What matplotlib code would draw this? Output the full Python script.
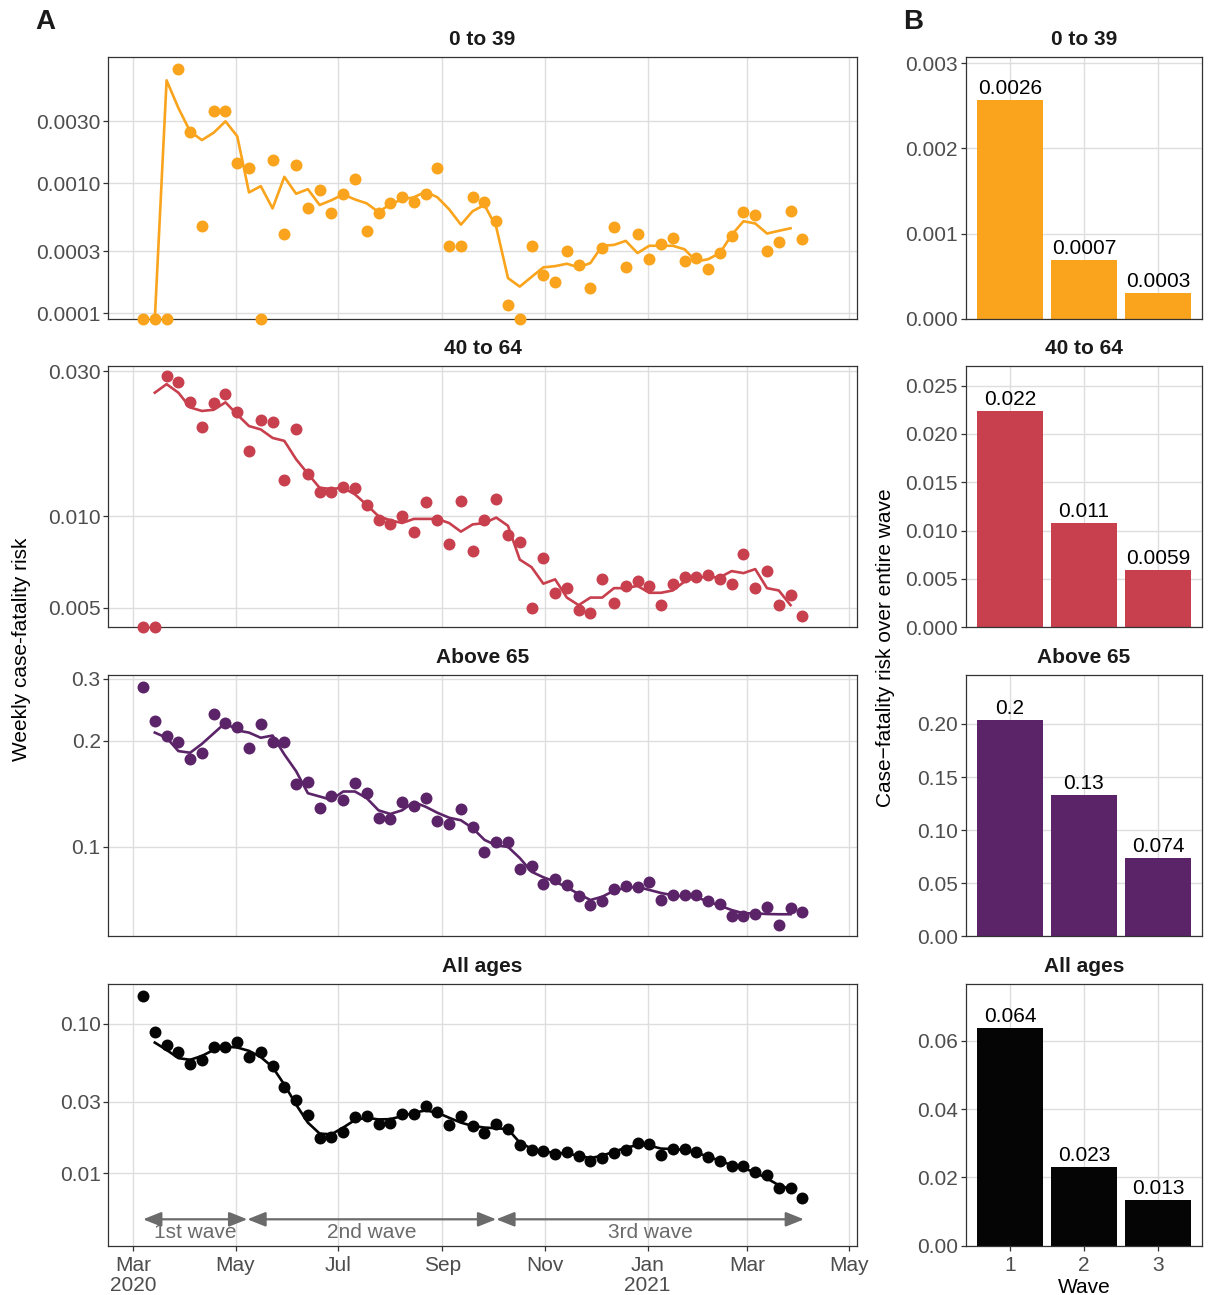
import numpy as np
import matplotlib.pyplot as plt
import matplotlib.dates as mdates
from matplotlib.ticker import NullLocator

plt.rcParams['font.family'] = ['Liberation Sans', 'DejaVu Sans']

# weekly estimates, first week starting early March 2020
weeks = np.datetime64('2020-03-07') + np.arange(57) * np.timedelta64(7, 'D')
xw = mdates.date2num(weeks)

groups = ["0 to 39", "40 to 64", "Above 65", "All ages"]
colors = ["#F9A41C", "#C83F4E", "#5B2468", "#050505"]
nan = np.nan

# weekly case-fatality risk (0 = no deaths that week)
cfr_0_39 = [0, 0, 0, 0.0076, 0.0025, 0.00047, 0.0036, 0.0036, 0.00143, 0.00132,
            0, 0.0015, 0.00041, 0.00139, 0.00065, 0.00088, 0.00059, 0.00082, 0.00107, 0.00043,
            0.00059, 0.00071, 0.00079, 0.00072, 0.00083, 0.0013, 0.00033, 0.00033, 0.00078, 0.00072,
            0.00051, 0.000115, 0, 0.00033, 0.000198, 0.000175, 0.0003, 0.000234, 0.000156, 0.00032,
            0.00046, 0.000226, 0.00041, 0.00026, 0.00034, 0.00038, 0.00025, 0.000264, 0.00022, 0.00029,
            0.00039, 0.0006, 0.00057, 0.0003, 0.00035, 0.00061, 0.00037]
cfr_40_64 = [0, 0, 0.029, 0.0276, 0.0238, 0.0196, 0.0235, 0.0252, 0.0221, 0.0164,
             0.0207, 0.0204, 0.0132, 0.0193, 0.0138, 0.012, 0.012, 0.01245, 0.0124, 0.01085,
             0.0097, 0.0094, 0.01, 0.0089, 0.0111, 0.0097, 0.0081, 0.0112, 0.0077, 0.0097,
             0.0114, 0.0087, 0.0082, 0.005, 0.0073, 0.0056, 0.0058, 0.00493, 0.0048, 0.0062,
             0.0052, 0.0059, 0.0061, 0.0059, 0.0051, 0.006, 0.0063, 0.0063, 0.0064, 0.0062,
             0.006, 0.0075, 0.0058, 0.0066, 0.0051, 0.0055, 0.0047]
cfr_65 = [0.285, 0.228, 0.206, 0.198, 0.177, 0.185, 0.239, 0.225, 0.219, 0.191,
          0.223, 0.198, 0.198, 0.151, 0.153, 0.129, 0.139, 0.136, 0.152, 0.142,
          0.121, 0.12, 0.134, 0.131, 0.138, 0.1185, 0.116, 0.128, 0.114, 0.097,
          0.1035, 0.1035, 0.0864, 0.088, 0.0787, 0.081, 0.078, 0.0726, 0.0684, 0.0703,
          0.0761, 0.0773, 0.077, 0.0797, 0.0707, 0.0729, 0.073, 0.073, 0.07, 0.0688,
          0.0638, 0.0635, 0.0646, 0.0675, 0.06, 0.067, 0.0655]
cfr_all = [0.154, 0.088, 0.072, 0.065, 0.054, 0.057, 0.0706, 0.0703, 0.0755, 0.0603,
           0.0647, 0.052, 0.0378, 0.0308, 0.0247, 0.0173, 0.0175, 0.0188, 0.0239, 0.024,
           0.0215, 0.0217, 0.0249, 0.0248, 0.0281, 0.0258, 0.021, 0.0241, 0.0206, 0.0185,
           0.0215, 0.0197, 0.0154, 0.0143, 0.014, 0.0134, 0.0139, 0.0131, 0.012, 0.0127,
           0.0137, 0.0143, 0.0158, 0.0157, 0.0133, 0.0144, 0.0145, 0.0139, 0.0129, 0.0121,
           0.0111, 0.0112, 0.0102, 0.0097, 0.008, 0.008, 0.0068]

# smoothed weekly risk
smooth_0_39 = [nan, 0, 0.0062, 0.0038, 0.0025, 0.00215, 0.00245, 0.003, 0.0023, 0.00085,
               0.00095, 0.00064, 0.00112, 0.00083, 0.0009, 0.00068, 0.00074, 0.00082, 0.00075, 0.0007,
               0.0006, 0.00069, 0.00075, 0.00078, 0.00086, 0.00078, 0.00063, 0.00048, 0.00061, 0.00068,
               0.00046, 0.000186, 0.00016, 0.00019, 0.000225, 0.00023, 0.00024, 0.000225, 0.000243, 0.00033,
               0.000335, 0.00036, 0.00029, 0.00033, 0.00033, 0.00033, 0.00031, 0.00025, 0.00026, 0.00029,
               0.0004, 0.00051, 0.00049, 0.00041, 0.00043, 0.00045, nan]
smooth_40_64 = [nan, 0.0255, 0.0272, 0.0255, 0.0228, 0.0222, 0.0224, 0.0237, 0.0216, 0.0198,
                0.0193, 0.0181, 0.0177, 0.0154, 0.0138, 0.0124, 0.0123, 0.0124, 0.0118, 0.0109,
                0.01, 0.0097, 0.0095, 0.0098, 0.0098, 0.0098, 0.0095, 0.0089, 0.0094, 0.0095,
                0.0099, 0.0093, 0.0072, 0.0068, 0.006, 0.0062, 0.0054, 0.0051, 0.0054, 0.0054,
                0.0058, 0.0058, 0.0059, 0.0056, 0.0056, 0.0057, 0.0061, 0.0063, 0.0063, 0.0063,
                0.0066, 0.0065, 0.0067, 0.0058, 0.0057, 0.0051, nan]
smooth_65 = [nan, 0.211, 0.204, 0.187, 0.185, 0.196, 0.21, 0.225, 0.214, 0.211,
             0.204, 0.207, 0.183, 0.164, 0.142, 0.139, 0.136, 0.1436, 0.1436, 0.1375,
             0.127, 0.124, 0.127, 0.134, 0.13, 0.125, 0.121, 0.119, 0.113, 0.1047,
             0.101, 0.1, 0.093, 0.085, 0.082, 0.0797, 0.0768, 0.0735, 0.0707, 0.0722,
             0.0751, 0.0766, 0.077, 0.0755, 0.074, 0.0729, 0.0722, 0.072, 0.07, 0.0681,
             0.0662, 0.0648, 0.0648, 0.0645, 0.0644, 0.0644, nan]
smooth_all = [nan, 0.075, 0.067, 0.059, 0.0575, 0.061, 0.067, 0.0706, 0.0695, 0.066,
              0.06, 0.0514, 0.0392, 0.0288, 0.0218, 0.0184, 0.0182, 0.0202, 0.0227, 0.0235,
              0.0229, 0.023, 0.0241, 0.0254, 0.0263, 0.0254, 0.0235, 0.0218, 0.0207, 0.0202,
              0.02, 0.0197, 0.016, 0.0146, 0.0139, 0.0137, 0.0135, 0.0131, 0.0126, 0.0131,
              0.0139, 0.0148, 0.0154, 0.0153, 0.0146, 0.0145, 0.0143, 0.0137, 0.0129, 0.0121,
              0.0113, 0.0108, 0.0101, 0.0092, 0.0083, 0.0078, nan]

weekly = [cfr_0_39, cfr_40_64, cfr_65, cfr_all]
smooth = [smooth_0_39, smooth_40_64, smooth_65, smooth_all]

# y axes of panel A (log scale)
ylims_a = [(0.0000904, 0.00933), (0.004315, 0.03128), (0.0558, 0.308), (0.00327, 0.1853)]
yticks_a = [[0.0001, 0.0003, 0.001, 0.003], [0.005, 0.01, 0.03], [0.1, 0.2, 0.3], [0.01, 0.03, 0.1]]
ylabels_a = [["0.0001", "0.0003", "0.0010", "0.0030"], ["0.005", "0.010", "0.030"],
             ["0.1", "0.2", "0.3"], ["0.01", "0.03", "0.10"]]

# x axis
month_ticks = np.array(['2020-03-01', '2020-05-01', '2020-07-01', '2020-09-01', '2020-11-01',
                        '2021-01-01', '2021-03-01', '2021-05-01'], dtype='datetime64[D]')
month_labels = ["Mar\n2020", "May", "Jul", "Sep", "Nov", "Jan\n2021", "Mar", "May"]
xlim_a = mdates.date2num(np.array(['2020-02-15T08', '2021-05-05T08'], dtype='datetime64[h]'))

# waves
wave_edges = np.array(['2020-03-07', '2020-05-08', '2020-10-03', '2021-04-04'], dtype='datetime64[D]')
wave_names = ["1st wave", "2nd wave", "3rd wave"]

# panel B: risk over entire wave
waves = [1, 2, 3]
wave_cfr = [[0.00257, 0.00069, 0.0003], [0.0224, 0.0108, 0.0059],
            [0.204, 0.1327, 0.0738], [0.0638, 0.0231, 0.0132]]
wave_cfr_labels = [["0.0026", "0.0007", "0.0003"], ["0.022", "0.011", "0.0059"],
                   ["0.2", "0.13", "0.074"], ["0.064", "0.023", "0.013"]]
ylims_b = [0.00307, 0.02707, 0.2464, 0.0767]
yticks_b = [[0, 0.001, 0.002, 0.003], [0, 0.005, 0.01, 0.015, 0.02, 0.025],
            [0, 0.05, 0.1, 0.15, 0.2], [0, 0.02, 0.04, 0.06]]
ylabels_b = [["0.000", "0.001", "0.002", "0.003"],
             ["0.000", "0.005", "0.010", "0.015", "0.020", "0.025"],
             ["0.00", "0.05", "0.10", "0.15", "0.20"], ["0.00", "0.02", "0.04", "0.06"]]

W, H = 1211, 1295
fig = plt.figure(figsize=(W / 100, H / 100), dpi=100)
tops = [57.3, 365.7, 674.7, 984.0]
ph = 261.5
FS = 15
GREY_TXT = '#4D4D4D'


def add_ax(x0, x1, top):
    return fig.add_axes([x0 / W, 1 - (top + ph) / H, (x1 - x0) / W, ph / H])


def style(ax):
    for s in ax.spines.values():
        s.set_color('#333333')
        s.set_linewidth(0.9)
    ax.grid(True, color='#DEDEDE', lw=1.0)
    ax.set_axisbelow(True)
    ax.tick_params(axis='both', length=3.5, width=0.9, color='#333333',
                   labelcolor=GREY_TXT, labelsize=FS, pad=2)


for i in range(4):
    # --- panel A ---
    ax = add_ax(108.3, 856.7, tops[i])
    style(ax)
    ax.set_yscale('log')
    lo, hi = ylims_a[i]
    ax.set_ylim(lo, hi)
    ax.set_xlim(*xlim_a)
    pts = np.array(weekly[i], dtype=float)
    sm = np.array(smooth[i], dtype=float)
    ax.plot(xw, np.where(sm == 0, lo, sm), '-', color=colors[i], lw=1.9, zorder=2)
    ax.plot(xw, np.where(pts == 0, lo, pts), 'o', color=colors[i], ms=8.6, mew=0,
            clip_on=False, zorder=3)
    ax.set_yticks(yticks_a[i])
    ax.set_yticklabels(ylabels_a[i])
    ax.yaxis.set_minor_locator(NullLocator())
    ax.set_xticks(mdates.date2num(month_ticks))
    ax.xaxis.set_minor_locator(NullLocator())
    if i < 3:
        ax.tick_params(axis='x', length=0, labelbottom=False)
    else:
        ax.set_xticklabels(month_labels)
        ax.tick_params(axis='x', pad=4)
        for t in ax.get_xticklabels():
            t.set_linespacing(1.05)
        xe = mdates.date2num(wave_edges)
        for k in range(3):
            ax.annotate('', xy=(xe[k + 1], 0.0049), xytext=(xe[k], 0.0049),
                        arrowprops=dict(arrowstyle='<|-|>,head_length=0.55,head_width=0.22',
                                        mutation_scale=20, color='#6B6B6B', lw=1.6,
                                        shrinkA=0, shrinkB=0))
            ax.text((xe[k] + xe[k + 1]) / 2, 0.0040, wave_names[k], ha='center', va='center',
                    color='#6B6B6B', fontsize=FS)
    ax.text(0.5, 1 + 17.5 / ph, groups[i], transform=ax.transAxes, ha='center', va='center',
            fontsize=FS, fontweight='bold', color='#1A1A1A')

    # --- panel B ---
    bx = add_ax(965.6, 1202.4, tops[i])
    style(bx)
    bx.bar(waves, wave_cfr[i], width=0.9, color=colors[i], zorder=2)
    for w, v, lab in zip(waves, wave_cfr[i], wave_cfr_labels[i]):
        bx.annotate(lab, (w, v), xytext=(0, 1.5), textcoords='offset points',
                    ha='center', va='bottom', fontsize=FS, color='black')
    bx.set_xlim(0.4, 3.6)
    bx.set_ylim(0, ylims_b[i])
    bx.set_xticks(waves)
    bx.set_yticks(yticks_b[i])
    bx.set_yticklabels(ylabels_b[i])
    if i < 3:
        bx.tick_params(axis='x', length=0, labelbottom=False)
    else:
        bx.tick_params(axis='x', pad=4)
        bx.set_xlabel('Wave', fontsize=FS, color='black', labelpad=2)
    bx.text(0.5, 1 + 17.5 / ph, groups[i], transform=bx.transAxes, ha='center', va='center',
            fontsize=FS, fontweight='bold', color='#1A1A1A')

fig.text(45 / W, 1 - 22 / H, 'A', ha='center', va='center', fontsize=20, fontweight='bold',
         color='#1A1A1A')
fig.text(913 / W, 1 - 22 / H, 'B', ha='center', va='center', fontsize=20, fontweight='bold',
         color='#1A1A1A')
fig.text(22 / W, 1 - 649 / H, 'Weekly case-fatality risk', rotation=90, ha='center',
         va='center', fontsize=FS)
fig.text(886 / W, 1 - 648 / H, 'Case\u2212fatality risk over entire wave', rotation=90,
         ha='center', va='center', fontsize=FS)

fig.savefig('out.png', dpi=100)
